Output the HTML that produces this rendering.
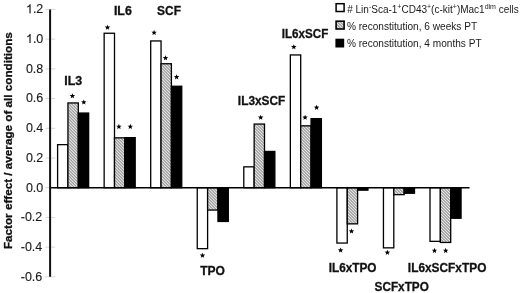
<!DOCTYPE html>
<html><head><meta charset="utf-8"><style>
html,body{margin:0;padding:0;background:#fff;}
body{width:520px;height:293px;overflow:hidden;position:relative;}
svg{position:absolute;left:0;top:0;will-change:transform;}
text{font-family:"Liberation Sans",sans-serif;}
.t{stroke:#1a1a1a;stroke-width:0.12px;}
</style></head><body>
<svg width="520" height="293" viewBox="0 0 520 293">
<defs>
<pattern id="hatch" patternUnits="userSpaceOnUse" width="2.12" height="2.12" patternTransform="rotate(-45)">
<rect width="2.12" height="2.12" fill="#f6f6f6"/>
<rect width="0.95" height="2.12" fill="#7a7a7a"/>

</pattern>
</defs>
<line x1="45.4" x2="55.3" y1="276.85" y2="276.85" stroke="#d4d4d4" stroke-width="0.9"/>
<text x="42.30" y="280.65" font-size="12.5" text-anchor="end" fill="#1a1a1a" class="t">-0.6</text>
<line x1="45.4" x2="55.3" y1="247.13" y2="247.13" stroke="#d4d4d4" stroke-width="0.9"/>
<text x="42.30" y="250.93" font-size="12.5" text-anchor="end" fill="#1a1a1a" class="t">-0.4</text>
<line x1="45.4" x2="55.3" y1="217.42" y2="217.42" stroke="#d4d4d4" stroke-width="0.9"/>
<text x="42.30" y="221.22" font-size="12.5" text-anchor="end" fill="#1a1a1a" class="t">-0.2</text>
<line x1="45.4" x2="55.3" y1="187.70" y2="187.70" stroke="#d4d4d4" stroke-width="0.9"/>
<text x="43.30" y="191.50" font-size="12.5" text-anchor="end" fill="#1a1a1a" class="t">0.0</text>
<line x1="45.4" x2="55.3" y1="157.98" y2="157.98" stroke="#d4d4d4" stroke-width="0.9"/>
<text x="43.30" y="161.78" font-size="12.5" text-anchor="end" fill="#1a1a1a" class="t">0.2</text>
<line x1="45.4" x2="55.3" y1="128.27" y2="128.27" stroke="#d4d4d4" stroke-width="0.9"/>
<text x="43.30" y="132.07" font-size="12.5" text-anchor="end" fill="#1a1a1a" class="t">0.4</text>
<line x1="45.4" x2="55.3" y1="98.55" y2="98.55" stroke="#d4d4d4" stroke-width="0.9"/>
<text x="43.30" y="102.35" font-size="12.5" text-anchor="end" fill="#1a1a1a" class="t">0.6</text>
<line x1="45.4" x2="55.3" y1="68.84" y2="68.84" stroke="#d4d4d4" stroke-width="0.9"/>
<text x="43.30" y="72.64" font-size="12.5" text-anchor="end" fill="#1a1a1a" class="t">0.8</text>
<line x1="45.4" x2="55.3" y1="39.12" y2="39.12" stroke="#d4d4d4" stroke-width="0.9"/>
<path transform="translate(25.92,42.92) scale(0.006104,-0.006104)" d="M763 0H583V1147Q518 1085 412.5 1023Q307 961 223 930V1104Q374 1175 487 1276Q600 1377 647 1472H763V0Z" fill="#1a1a1a" stroke="#1a1a1a" stroke-width="19.7"/>
<text x="32.88" y="42.92" font-size="12.5" fill="#1a1a1a" class="t">.0</text>
<line x1="45.4" x2="55.3" y1="9.40" y2="9.40" stroke="#d4d4d4" stroke-width="0.9"/>
<path transform="translate(25.92,13.20) scale(0.006104,-0.006104)" d="M763 0H583V1147Q518 1085 412.5 1023Q307 961 223 930V1104Q374 1175 487 1276Q600 1377 647 1472H763V0Z" fill="#1a1a1a" stroke="#1a1a1a" stroke-width="19.7"/>
<text x="32.88" y="13.20" font-size="12.5" fill="#1a1a1a" class="t">.2</text>
<rect x="57.60" y="144.65" width="10.35" height="43.05" fill="#fff" stroke="#000" stroke-width="1.3"/>
<rect x="67.95" y="102.95" width="10.35" height="84.75" fill="url(#hatch)" stroke="#000" stroke-width="1.3"/>
<rect x="78.30" y="113.05" width="10.35" height="74.65" fill="#000" stroke="#000" stroke-width="1.3"/>
<rect x="104.15" y="33.25" width="10.35" height="154.45" fill="#fff" stroke="#000" stroke-width="1.3"/>
<rect x="114.50" y="137.85" width="10.35" height="49.85" fill="url(#hatch)" stroke="#000" stroke-width="1.3"/>
<rect x="124.85" y="137.65" width="10.35" height="50.05" fill="#000" stroke="#000" stroke-width="1.3"/>
<rect x="150.70" y="40.95" width="10.35" height="146.75" fill="#fff" stroke="#000" stroke-width="1.3"/>
<rect x="161.05" y="63.75" width="10.35" height="123.95" fill="url(#hatch)" stroke="#000" stroke-width="1.3"/>
<rect x="171.40" y="86.25" width="10.35" height="101.45" fill="#000" stroke="#000" stroke-width="1.3"/>
<rect x="197.25" y="187.70" width="10.35" height="60.95" fill="#fff" stroke="#000" stroke-width="1.3"/>
<rect x="207.60" y="187.70" width="10.35" height="22.35" fill="url(#hatch)" stroke="#000" stroke-width="1.3"/>
<rect x="217.95" y="187.70" width="10.35" height="33.75" fill="#000" stroke="#000" stroke-width="1.3"/>
<rect x="243.80" y="166.85" width="10.35" height="20.85" fill="#fff" stroke="#000" stroke-width="1.3"/>
<rect x="254.15" y="124.05" width="10.35" height="63.65" fill="url(#hatch)" stroke="#000" stroke-width="1.3"/>
<rect x="264.50" y="151.45" width="10.35" height="36.25" fill="#000" stroke="#000" stroke-width="1.3"/>
<rect x="290.35" y="54.95" width="10.35" height="132.75" fill="#fff" stroke="#000" stroke-width="1.3"/>
<rect x="300.70" y="125.85" width="10.35" height="61.85" fill="url(#hatch)" stroke="#000" stroke-width="1.3"/>
<rect x="311.05" y="118.65" width="10.35" height="69.05" fill="#000" stroke="#000" stroke-width="1.3"/>
<rect x="336.90" y="187.70" width="10.35" height="55.35" fill="#fff" stroke="#000" stroke-width="1.3"/>
<rect x="347.25" y="187.70" width="10.35" height="36.15" fill="url(#hatch)" stroke="#000" stroke-width="1.3"/>
<rect x="357.60" y="187.70" width="10.35" height="2.45" fill="#000" stroke="#000" stroke-width="1.3"/>
<rect x="383.45" y="187.70" width="10.35" height="60.15" fill="#fff" stroke="#000" stroke-width="1.3"/>
<rect x="393.80" y="187.70" width="10.35" height="6.95" fill="url(#hatch)" stroke="#000" stroke-width="1.3"/>
<rect x="404.15" y="187.70" width="10.35" height="5.55" fill="#000" stroke="#000" stroke-width="1.3"/>
<rect x="430.00" y="187.70" width="10.35" height="53.65" fill="#fff" stroke="#000" stroke-width="1.3"/>
<rect x="440.35" y="187.70" width="10.35" height="54.75" fill="url(#hatch)" stroke="#000" stroke-width="1.3"/>
<rect x="450.70" y="187.70" width="10.35" height="30.55" fill="#000" stroke="#000" stroke-width="1.3"/>
<polygon points="72.40,93.15 73.13,94.99 75.11,95.12 73.59,96.39 74.08,98.31 72.40,97.25 70.72,98.31 71.21,96.39 69.69,95.12 71.67,94.99" fill="#000"/>
<polygon points="83.80,99.45 84.53,101.29 86.51,101.42 84.99,102.69 85.48,104.61 83.80,103.55 82.12,104.61 82.61,102.69 81.09,101.42 83.07,101.29" fill="#000"/>
<polygon points="107.50,24.65 108.23,26.49 110.21,26.62 108.69,27.89 109.18,29.81 107.50,28.75 105.82,29.81 106.31,27.89 104.79,26.62 106.77,26.49" fill="#000"/>
<polygon points="118.90,123.85 119.63,125.69 121.61,125.82 120.09,127.09 120.58,129.01 118.90,127.95 117.22,129.01 117.71,127.09 116.19,125.82 118.17,125.69" fill="#000"/>
<polygon points="130.30,123.85 131.03,125.69 133.01,125.82 131.49,127.09 131.98,129.01 130.30,127.95 128.62,129.01 129.11,127.09 127.59,125.82 129.57,125.69" fill="#000"/>
<polygon points="154.10,29.85 154.83,31.69 156.81,31.82 155.29,33.09 155.78,35.01 154.10,33.95 152.42,35.01 152.91,33.09 151.39,31.82 153.37,31.69" fill="#000"/>
<polygon points="165.50,55.15 166.23,56.99 168.21,57.12 166.69,58.39 167.18,60.31 165.50,59.25 163.82,60.31 164.31,58.39 162.79,57.12 164.77,56.99" fill="#000"/>
<polygon points="176.60,74.25 177.33,76.09 179.31,76.22 177.79,77.49 178.28,79.41 176.60,78.35 174.92,79.41 175.41,77.49 173.89,76.22 175.87,76.09" fill="#000"/>
<polygon points="202.50,252.65 203.23,254.49 205.21,254.62 203.69,255.89 204.18,257.81 202.50,256.75 200.82,257.81 201.31,255.89 199.79,254.62 201.77,254.49" fill="#000"/>
<polygon points="260.70,114.65 261.43,116.49 263.41,116.62 261.89,117.89 262.38,119.81 260.70,118.75 259.02,119.81 259.51,117.89 257.99,116.62 259.97,116.49" fill="#000"/>
<polygon points="293.80,44.15 294.53,45.99 296.51,46.12 294.99,47.39 295.48,49.31 293.80,48.25 292.12,49.31 292.61,47.39 291.09,46.12 293.07,45.99" fill="#000"/>
<polygon points="305.10,114.65 305.83,116.49 307.81,116.62 306.29,117.89 306.78,119.81 305.10,118.75 303.42,119.81 303.91,117.89 302.39,116.62 304.37,116.49" fill="#000"/>
<polygon points="316.60,104.75 317.33,106.59 319.31,106.72 317.79,107.99 318.28,109.91 316.60,108.85 314.92,109.91 315.41,107.99 313.89,106.72 315.87,106.59" fill="#000"/>
<polygon points="340.60,247.45 341.33,249.29 343.31,249.42 341.79,250.69 342.28,252.61 340.60,251.55 338.92,252.61 339.41,250.69 337.89,249.42 339.87,249.29" fill="#000"/>
<polygon points="351.50,228.45 352.23,230.29 354.21,230.42 352.69,231.69 353.18,233.61 351.50,232.55 349.82,233.61 350.31,231.69 348.79,230.42 350.77,230.29" fill="#000"/>
<polygon points="387.40,249.75 388.13,251.59 390.11,251.72 388.59,252.99 389.08,254.91 387.40,253.85 385.72,254.91 386.21,252.99 384.69,251.72 386.67,251.59" fill="#000"/>
<polygon points="434.50,247.85 435.23,249.69 437.21,249.82 435.69,251.09 436.18,253.01 434.50,251.95 432.82,253.01 433.31,251.09 431.79,249.82 433.77,249.69" fill="#000"/>
<polygon points="445.70,247.85 446.43,249.69 448.41,249.82 446.89,251.09 447.38,253.01 445.70,251.95 444.02,253.01 444.51,251.09 442.99,249.82 444.97,249.69" fill="#000"/>
<line x1="50.2" x2="469.5" y1="187.70" y2="187.70" stroke="#000" stroke-width="1.6"/>
<line x1="50.1" x2="50.1" y1="9.40" y2="276.85" stroke="#111" stroke-width="2"/>
<text transform="translate(64.21,85.10) scale(1.035,1)" font-size="12" font-weight="bold" fill="#111" stroke="#111" stroke-width="0.3">IL3</text>
<text transform="translate(113.91,14.85) scale(1.035,1)" font-size="12" font-weight="bold" fill="#111" stroke="#111" stroke-width="0.3">IL6</text>
<text transform="translate(157.08,14.50) scale(0.995,1)" font-size="12" font-weight="bold" fill="#111" stroke="#111" stroke-width="0.3">SCF</text>
<text transform="translate(200.17,275.30) scale(1.005,1)" font-size="12" font-weight="bold" fill="#111" stroke="#111" stroke-width="0.3">TPO</text>
<text transform="translate(237.83,104.70) scale(0.99,1)" font-size="12" font-weight="bold" fill="#111" stroke="#111" stroke-width="0.3">IL3xSCF</text>
<text transform="translate(281.74,38.30) scale(0.97,1)" font-size="12" font-weight="bold" fill="#111" stroke="#111" stroke-width="0.3">IL6xSCF</text>
<text transform="translate(328.63,272.20) scale(0.985,1)" font-size="12" font-weight="bold" fill="#111" stroke="#111" stroke-width="0.3">IL6xTPO</text>
<text transform="translate(374.58,290.90) scale(0.98,1)" font-size="12" font-weight="bold" fill="#111" stroke="#111" stroke-width="0.3">SCFxTPO</text>
<text transform="translate(407.83,272.20) scale(0.99,1)" font-size="12" font-weight="bold" fill="#111" stroke="#111" stroke-width="0.3">IL6xSCFxTPO</text>
<text transform="translate(11.6,140.6) rotate(-90)" font-size="11.7" font-weight="bold" text-anchor="middle" fill="#111" stroke="#111" stroke-width="0.3">Factor effect / average of all conditions</text>
<rect x="336.1" y="3.7" width="8" height="7.8" fill="#fff" stroke="#000" stroke-width="1.5"/>
<rect x="336.1" y="21.2" width="8" height="7.8" fill="url(#hatch)" stroke="#000" stroke-width="1.6"/>
<rect x="335.4" y="38.7" width="8.8" height="8.8" fill="#000"/>
<text x="347.2" y="13" font-size="10" fill="#1a1a1a" class="r"># Lin<tspan font-size="7" dy="-3.6">-</tspan><tspan dy="3.6">Sca-1</tspan><tspan font-size="7" dy="-3.6">+</tspan><tspan dy="3.6">CD43</tspan><tspan font-size="7" dy="-3.6">+</tspan><tspan dy="3.6">(c-kit</tspan><tspan font-size="7" dy="-3.6">+</tspan><tspan dy="3.6">)Mac1</tspan><tspan font-size="7" dy="-3.8">dim</tspan><tspan dy="3.8"> cells</tspan></text>
<text transform="translate(346.9,29.6) scale(1.01,1)" font-size="10" fill="#1a1a1a" class="r">% reconstitution, 6 weeks PT</text>
<text transform="translate(346.9,47) scale(1.01,1)" font-size="10" fill="#1a1a1a" class="r">% reconstitution, 4 months PT</text>
</svg>
</body></html>
